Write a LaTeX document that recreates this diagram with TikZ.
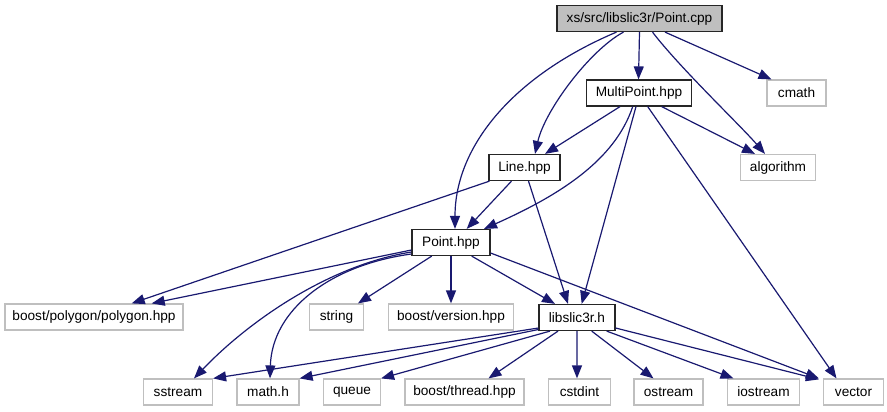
\documentclass[tikz,border=0pt]{standalone}
\usepackage{fontspec}
\setmainfont{Liberation Sans}
\usetikzlibrary{arrows.meta}
\definecolor{edgeblue}{RGB}{25,25,112}
\definecolor{grey75}{RGB}{191,191,191}
\begin{document}
\begin{tikzpicture}[x=1bp,y=-1bp,
  box/.style={draw=black!85, line width=1.2bp, minimum height=26bp, inner sep=0pt,
              font=\fontsize{13.7}{16}\selectfont, text=black},
  ext/.style={box, draw=grey75},
  root/.style={box, fill=grey75},
  edge/.style={draw=edgeblue, line width=1.2bp, -{Triangle[length=13bp,width=10bp]}}]
\useasboundingbox (0,0) rectangle (887,411);
% nodes
\node[root, minimum width=165bp] (pcpp) at (639.5,18.5) {xs/src/libslic3r/Point.cpp};
\node[box, minimum width=105bp] (mp) at (639,93) {MultiPoint.hpp};
\node[ext, minimum width=59bp] (cmath) at (796.5,93) {cmath};
\node[box, minimum width=71bp] (line) at (524.5,167.5) {Line.hpp};
\node[ext, minimum width=75bp] (algo) at (778,167.5) {algorithm};
\node[box, minimum width=78bp] (phpp) at (451,242.5) {Point.hpp};
\node[ext, minimum width=178bp] (poly) at (94,317) {boost/polygon/polygon.hpp};
\node[ext, minimum width=54bp] (string) at (336.5,317) {string};
\node[ext, minimum width=125bp] (bver) at (451,317) {boost/version.hpp};
\node[box, minimum width=76bp] (lib) at (577,317.5) {libslic3r.h};
\node[ext, minimum width=69bp] (sstream) at (178,392) {sstream};
\node[ext, minimum width=62bp] (mathh) at (268,392) {math.h};
\node[ext, minimum width=57bp] (queue) at (352,392) {queue};
\node[ext, minimum width=119bp] (bthread) at (464.5,392) {boost/thread.hpp};
\node[ext, minimum width=62bp] (cstdint) at (579.5,392) {cstdint};
\node[ext, minimum width=69bp] (ostream) at (668.5,392) {ostream};
\node[ext, minimum width=72bp] (iostream) at (763.5,392) {iostream};
\node[ext, minimum width=60bp] (vector) at (853.5,392) {vector};
% edges from Point.cpp
\draw[edge] (pcpp.south) -- ([xshift=-0.5bp]mp.north);
\draw[edge] ([xshift=25.5bp]pcpp.south) -- ([xshift=-25bp]cmath.north);
\draw[edge] ([xshift=13bp]pcpp.south) .. controls (680,68) and (740,125) .. ([xshift=-13bp]algo.north);
\draw[edge] ([xshift=-16bp]pcpp.south) .. controls (590,50) and (545,110) .. ([xshift=10.5bp]line.north);
\draw[edge] ([xshift=-23bp]pcpp.south) .. controls (515,75) and (455,145) .. ([xshift=4bp]phpp.north);
% edges from MultiPoint.hpp
\draw[edge] ([xshift=-19bp]mp.south) -- ([xshift=20.5bp]line.north);
\draw[edge] ([xshift=22.7bp]mp.south) -- ([xshift=-23bp]algo.north);
\draw[edge] ([xshift=-6.3bp]mp.south) .. controls (615,160) and (560,195) .. ([xshift=33bp]phpp.north);
\draw[edge] ([xshift=-3bp]mp.south) -- ([xshift=4.7bp]lib.north);
\draw[edge] ([xshift=8.7bp]mp.south) -- ([xshift=-17bp]vector.north);
% edges from Line.hpp
\draw[edge] ([xshift=-13bp]line.south) -- ([xshift=15.7bp]phpp.north);
\draw[edge] ([xshift=4bp]line.south) -- ([xshift=-9bp]lib.north);
\draw[edge] ([xshift=-35bp]line.south) -- ([xshift=37.7bp]poly.north);
% edges from Point.hpp
\draw[edge] ([yshift=-7.5bp]phpp.west) -- ([xshift=57.7bp]poly.north);
\draw[edge] ([yshift=-9.5bp]phpp.west) .. controls (330,265) and (250,320) .. ([xshift=16bp]sstream.north);
\draw[edge] ([yshift=-11.5bp]phpp.west) .. controls (330,265) and (272,310) .. ([xshift=2bp]mathh.north);
\draw[edge] ([xshift=-19.3bp]phpp.south) -- ([xshift=21.5bp]string.north);
\draw[edge] (phpp.south) -- (bver.north);
\draw[edge] ([xshift=20.7bp]phpp.south) -- ([xshift=-22bp]lib.north);
\draw[edge] ([yshift=-10.5bp]phpp.east) -- ([xshift=-4bp]vector.north west);
% edges from libslic3r.h
\draw[edge] ([yshift=-10.5bp]lib.west) -- (sstream.north east);
\draw[edge] ([yshift=-12bp]lib.west) -- (mathh.north east);
\draw[edge] ([xshift=-27bp]lib.south) -- (queue.north east);
\draw[edge] ([xshift=-19bp]lib.south) -- ([xshift=24bp]bthread.north);
\draw[edge] (lib.south) -- ([xshift=-2.5bp]cstdint.north);
\draw[edge] ([xshift=14.7bp]lib.south) -- ([xshift=-15bp]ostream.north);
\draw[edge] ([xshift=29.7bp]lib.south) -- ([xshift=-30bp]iostream.north);
\draw[edge] ([yshift=-10.5bp]lib.east) -- ([xshift=-4bp,yshift=-1bp]vector.north west);
\end{tikzpicture}
\end{document}
